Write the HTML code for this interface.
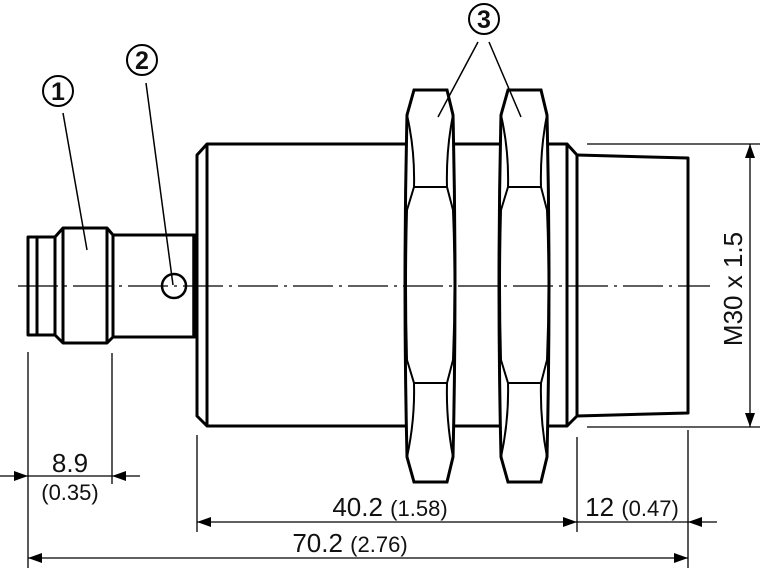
<!DOCTYPE html>
<html><head><meta charset="utf-8"><style>
html,body{margin:0;padding:0;background:#fff;width:760px;height:568px;overflow:hidden}
svg{display:block}
text{font-family:"Liberation Sans",sans-serif;fill:#111}
</style></head><body>
<svg width="760" height="568" viewBox="0 0 760 568" xmlns="http://www.w3.org/2000/svg">
<defs>
<g id="nut">
<path d="M8,90 L41,90 L47,115 Q51,286 47,457 L41,482 L8,482 L1,457 Q-3,286 1,115 Z" fill="#fff" stroke="#000" stroke-width="3"/>
<path d="M41,90 L47,115 Q40,150 41,187 L8,187 Q9,150 1,115 M8,90 L1,115" fill="none" stroke="#000" stroke-width="2"/>
<path d="M8,187 L1,210 Q-1,286 1,360 L8,383 M41,187 L47,210 Q50,286 47,360 L41,383" fill="none" stroke="#000" stroke-width="2"/>
<path d="M8,383 L41,383 Q40,420 47,457 M8,383 Q9,420 1,457" fill="none" stroke="#000" stroke-width="2"/>
</g>
</defs>
<g fill="none" stroke="#000" stroke-width="3" stroke-linejoin="round">
<rect x="28" y="237" width="9" height="98"/>
<path d="M37,237 L55,237 L63,228 L107,228 L113,235 L113,337 L107,343 L63,343 L55,335 L37,335"/>
<line x1="63" y1="228" x2="63" y2="343"/>
<line x1="55" y1="237" x2="55" y2="335"/>
<line x1="107" y1="228" x2="107" y2="343"/>
<path d="M113,235 L195,235 L195,337 L113,337"/>
<line x1="193" y1="235" x2="193" y2="337" stroke-width="1.5"/>
<circle cx="174" cy="286" r="12" stroke-width="2.5"/>
<path d="M207,144 L567,144 L567,426 L207,426 L197,416 L197,155 Z"/>
<line x1="207" y1="144" x2="207" y2="426"/>
<path d="M567,144 L577,155 L577,416 L567,426"/>
<path d="M577,155 L688,158 L688,413 L577,416"/>
</g>
<use href="#nut" x="406"/>
<use href="#nut" x="500"/>
<line x1="18" y1="286" x2="710" y2="286" stroke="#000" stroke-width="1.2" stroke-dasharray="40,6,3,6"/>
<g stroke="#000" stroke-width="1.5" fill="none">
<line x1="63" y1="113" x2="87" y2="250"/>
<line x1="146" y1="83" x2="173" y2="285"/>
<line x1="478" y1="42" x2="438" y2="117"/>
<line x1="489" y1="42" x2="521" y2="117"/>
</g>
<g stroke="#000" stroke-width="2" fill="none">
<circle cx="58" cy="91" r="15"/>
<circle cx="142" cy="60" r="15"/>
<circle cx="484" cy="19" r="15"/>
</g>
<g text-anchor="middle" font-weight="bold">
<text x="58" y="100" font-size="25">1</text>
<text x="142" y="69" font-size="25">2</text>
<text x="484" y="28" font-size="25">3</text>
</g>
<g stroke="#000" stroke-width="1.3" fill="none">
<line x1="28" y1="352" x2="28" y2="568"/>
<line x1="112" y1="353" x2="112" y2="484"/>
<line x1="0" y1="476" x2="140" y2="476"/>
<line x1="197" y1="435" x2="197" y2="532"/>
<line x1="577" y1="437" x2="577" y2="532"/>
<line x1="688" y1="430" x2="688" y2="568"/>
<line x1="197" y1="522" x2="717" y2="522"/>
<line x1="28" y1="558" x2="688" y2="558"/>
<line x1="587" y1="144" x2="760" y2="144"/>
<line x1="587" y1="427" x2="760" y2="427"/>
<line x1="750" y1="144" x2="750" y2="427"/>
</g>
<g fill="#000">
<path d="M28,476 L14,471 L14,481 Z"/>
<path d="M112,476 L126,471 L126,481 Z"/>
<path d="M197,522 L211,517 L211,527 Z"/>
<path d="M577,522 L563,517 L563,527 Z"/>
<path d="M688,522 L702,517 L702,527 Z"/>
<path d="M28,558 L42,553 L42,563 Z"/>
<path d="M688,558 L674,553 L674,563 Z"/>
<path d="M750,144 L745,158 L755,158 Z"/>
<path d="M750,427 L745,413 L755,413 Z"/>
</g>
<g text-anchor="middle">
<text x="70" y="472" font-size="26">8.9</text>
<text x="70" y="500" font-size="22">(0.35)</text>
<text x="390" y="516"><tspan font-size="26">40.2 </tspan><tspan font-size="22">(1.58)</tspan></text>
<text x="632" y="516"><tspan font-size="26">12 </tspan><tspan font-size="22">(0.47)</tspan></text>
<text x="350" y="552"><tspan font-size="26">70.2 </tspan><tspan font-size="22">(2.76)</tspan></text>
<text x="0" y="0" font-size="26" transform="translate(742,289) rotate(-90)">M30 x 1.5</text>
</g>
</svg>
</body></html>
